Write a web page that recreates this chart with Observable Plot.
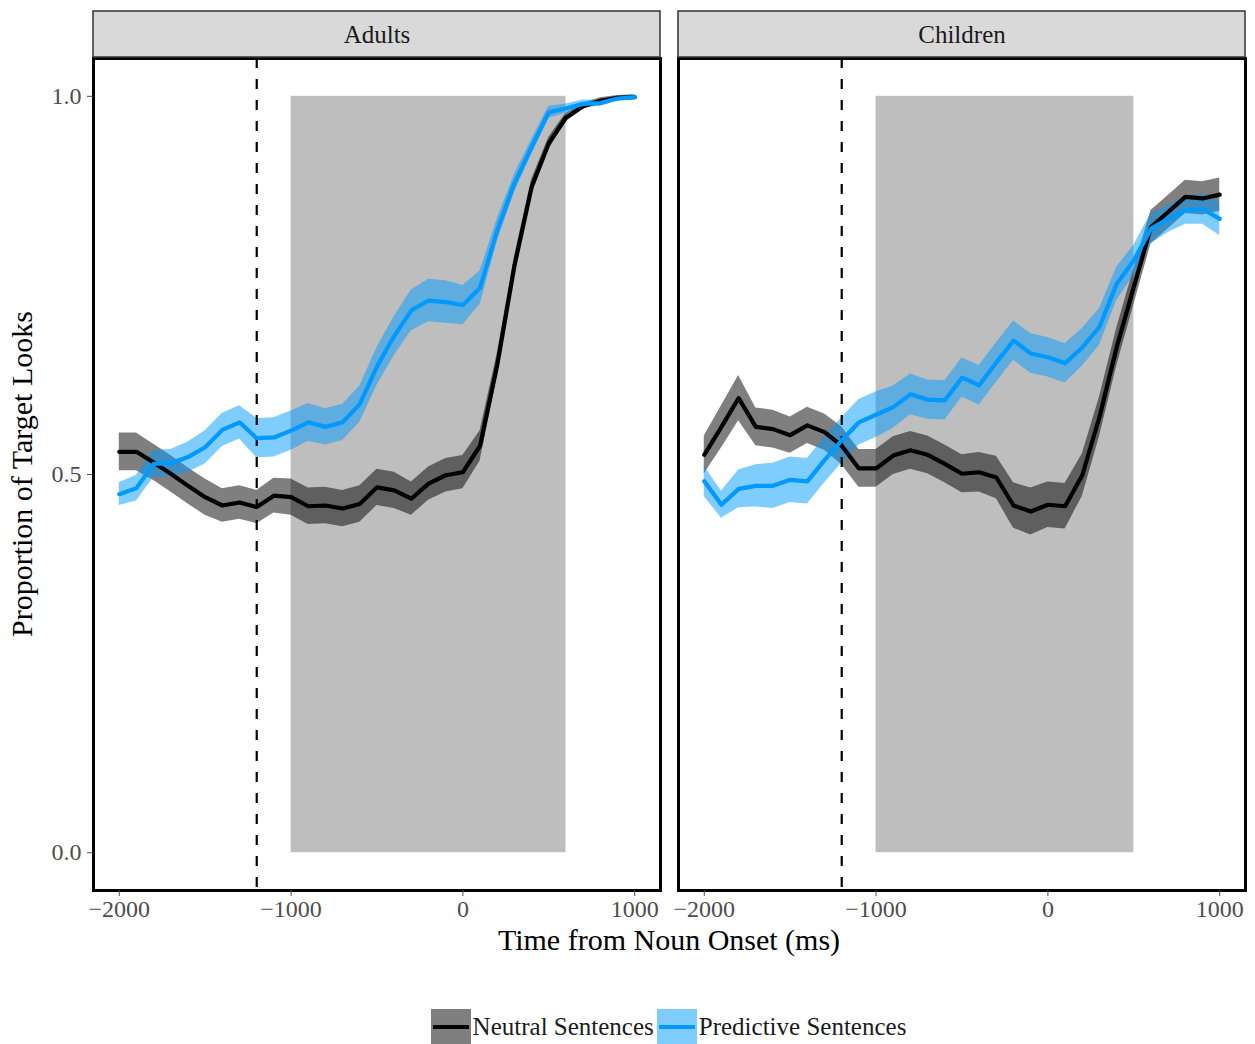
<!DOCTYPE html>
<html>
<head>
<meta charset="utf-8">
<script src="https://cdn.jsdelivr.net/npm/d3@7"></script>
<script src="https://cdn.jsdelivr.net/npm/@observablehq/plot@0.6"></script>
<style>
  body { margin: 0; background: #fff; }
  #chart { width: 1255px; }
  #legend {
    width: 1255px; box-sizing: border-box; padding-left: 85px;
    display: flex; justify-content: center; align-items: center;
    margin-top: 39px;
    font-family: "Liberation Serif", "Times New Roman", serif;
    font-size: 25px; color: #1a1a1a;
  }
  .key { width: 40px; height: 36px; position: relative; display: inline-block; margin-right: 2px; }
  .key .ln { position: absolute; left: 2px; right: 2px; top: 16px; height: 4px; }
  .lab { margin-right: 3px; }
  #chart svg text { font-family: "Liberation Serif", "Times New Roman", serif; }
</style>
</head>
<body>
<div id="chart"></div>
<div id="legend"></div>
<script>
// ---------- data ----------
const panels = ["Adults", "Children"];
const conditions = ["Neutral Sentences", "Predictive Sentences"];
const times = [-2000, -1900, -1800, -1700, -1600, -1500, -1400, -1300, -1200, -1100,
               -1000, -900, -800, -700, -600, -500, -400, -300, -200, -100,
               0, 100, 200, 300, 400, 500, 600, 700, 800, 900, 1000];

const adultsNeutral = [0.530, 0.530, 0.516, 0.501, 0.485, 0.470, 0.459, 0.463, 0.457, 0.472,
                       0.470, 0.458, 0.459, 0.455, 0.461, 0.483, 0.479, 0.468, 0.488, 0.499,
                       0.503, 0.538, 0.645, 0.776, 0.880, 0.938, 0.972, 0.987, 0.994, 0.998, 0.999];
const adultsNeutralSE = [0.025, 0.025, 0.024, 0.024, 0.024, 0.024, 0.022, 0.022, 0.022, 0.023,
                         0.024, 0.024, 0.024, 0.024, 0.024, 0.024, 0.024, 0.022, 0.022, 0.022,
                         0.022, 0.020, 0.015, 0.012, 0.010, 0.008, 0.006, 0.004, 0.004, 0.003, 0.003];
const adultsPredictive = [0.474, 0.482, 0.514, 0.515, 0.523, 0.536, 0.559, 0.569, 0.548, 0.549,
                          0.558, 0.569, 0.563, 0.569, 0.593, 0.643, 0.683, 0.717, 0.730, 0.728,
                          0.724, 0.747, 0.823, 0.885, 0.933, 0.979, 0.984, 0.990, 0.991, 0.997, 0.999];
const adultsPredictiveSE = [0.015, 0.017, 0.018, 0.018, 0.020, 0.022, 0.022, 0.022, 0.026, 0.026,
                            0.026, 0.025, 0.024, 0.024, 0.024, 0.025, 0.026, 0.027, 0.028, 0.028,
                            0.026, 0.022, 0.015, 0.012, 0.010, 0.008, 0.006, 0.005, 0.004, 0.003, 0.003];
const childrenNeutral = [0.526, 0.563, 0.601, 0.563, 0.560, 0.552, 0.565, 0.556, 0.538, 0.508,
                         0.508, 0.525, 0.532, 0.526, 0.514, 0.501, 0.503, 0.496, 0.459, 0.451,
                         0.460, 0.458, 0.499, 0.576, 0.668, 0.748, 0.827, 0.847, 0.867, 0.865, 0.870];
const childrenNeutralSE = [0.025, 0.028, 0.030, 0.025, 0.025, 0.024, 0.024, 0.024, 0.025, 0.025,
                           0.025, 0.025, 0.025, 0.025, 0.025, 0.025, 0.026, 0.028, 0.030, 0.031,
                           0.030, 0.030, 0.028, 0.026, 0.025, 0.024, 0.022, 0.022, 0.022, 0.022, 0.022];
const childrenPredictive = [0.491, 0.460, 0.481, 0.485, 0.485, 0.493, 0.491, 0.519, 0.545, 0.569,
                            0.579, 0.589, 0.606, 0.599, 0.598, 0.628, 0.618, 0.648, 0.677, 0.660,
                            0.655, 0.647, 0.668, 0.695, 0.752, 0.783, 0.825, 0.838, 0.849, 0.851, 0.838];
const childrenPredictiveSE = [0.020, 0.018, 0.025, 0.028, 0.030, 0.030, 0.030, 0.030, 0.030, 0.030,
                              0.030, 0.028, 0.027, 0.026, 0.026, 0.026, 0.026, 0.026, 0.026, 0.026,
                              0.026, 0.026, 0.025, 0.024, 0.022, 0.020, 0.020, 0.018, 0.018, 0.020, 0.022];

const windowStart = [-1000, -1000];
const windowEnd = [600, 500];
const predictionOnset = [-1200];
const xTicks = [-2000, -1000, 0, 1000];
const yTicks = [0, 0.5, 1];

const colors = ["#000000", "#0099ff"];

// ---------- build table ----------
const series = {
  "Adults": { "Neutral Sentences": [adultsNeutral, adultsNeutralSE], "Predictive Sentences": [adultsPredictive, adultsPredictiveSE] },
  "Children": { "Neutral Sentences": [childrenNeutral, childrenNeutralSE], "Predictive Sentences": [childrenPredictive, childrenPredictiveSE] }
};
const rows = [];
for (const p of panels) for (const c of conditions) {
  const [v, se] = series[p][c];
  times.forEach((t, i) => rows.push({ panel: p, cond: c, t, y: v[i], lo: v[i] - se[i], hi: v[i] + se[i] }));
}
const shade = panels.map((p, i) => ({ panel: p, x1: windowStart[i], x2: windowEnd[i] }));
const strips = panels.map(p => ({ panel: p }));

// scale extents (5% expansion as in the source)
const X0 = -2150, X1 = 1150, Y0 = -0.05, Y1 = 1.05;
const H = 970, MT = 58, MB = 80;
const pxPerY = (H - MT - MB) / (Y1 - Y0);
const pyToY = py => Y1 + (MT - py) / pxPerY;

const serif = "'Liberation Serif', 'Times New Roman', serif";

const chart = Plot.plot({
  width: 1255, height: H,
  marginLeft: 93, marginRight: 9, marginTop: MT, marginBottom: MB,
  style: { fontFamily: serif, background: "#fff" },
  fx: { domain: panels, paddingInner: 17.7 / 585.3, paddingOuter: 0, axis: null, label: null },
  x: { domain: [X0, X1], label: null },
  y: { domain: [Y0, Y1], label: null },
  color: { domain: conditions, range: colors },
  marks: [
    Plot.rect(shade, { fx: "panel", x1: "x1", x2: "x2", y1: 0, y2: 1, fill: "#bebebe" }),
    Plot.areaY(rows, { fx: "panel", x: "t", y1: "lo", y2: "hi", z: "cond", fill: "cond", fillOpacity: 0.5 }),
    Plot.ruleX(predictionOnset, { stroke: "#000", strokeWidth: 2.2, strokeDasharray: "10,11" }),
    Plot.lineY(rows, { fx: "panel", x: "t", y: "y", z: "cond", stroke: "cond", strokeWidth: 4.2, strokeLinejoin: "round" }),
    Plot.frame({ stroke: "#000", strokeWidth: 3 }),
    Plot.rect(strips, { fx: "panel", x1: X0, x2: X1, y1: pyToY(57), y2: pyToY(11), fill: "#d9d9d9", stroke: "#333", strokeWidth: 1.5 }),
    Plot.text(strips, { fx: "panel", x: (X0 + X1) / 2, y: pyToY(34), text: "panel", fontSize: 25, fill: "#1a1a1a", fontFamily: serif }),
    Plot.axisX({ ticks: xTicks, tickFormat: d3.format("d"), tickSize: 6, tickPadding: 3, fontSize: 24, fontFamily: serif, color: "#4d4d4d", label: null }),
    Plot.axisY({ ticks: yTicks, tickFormat: d3.format(".1f"), tickSize: 6, tickPadding: 6, fontSize: 24, fontFamily: serif, color: "#4d4d4d", label: null })
  ]
});

// axis titles
const svg = d3.select(chart);
svg.append("text")
  .attr("x", 669).attr("y", 943)
  .attr("text-anchor", "middle").attr("dominant-baseline", "middle")
  .attr("font-family", serif).attr("font-size", 30).attr("fill", "#000")
  .text("Time from Noun Onset (ms)");
svg.append("text")
  .attr("transform", "translate(25,474) rotate(-90)")
  .attr("text-anchor", "middle").attr("dominant-baseline", "middle")
  .attr("font-family", serif).attr("font-size", 30).attr("fill", "#000")
  .text("Proportion of Target Looks");

document.getElementById("chart").appendChild(chart);

// legend
const legend = d3.select("#legend");
conditions.forEach((c, i) => {
  const key = legend.append("span").attr("class", "key")
    .style("background", d3.color(colors[i]).copy({ opacity: 0.5 }).formatRgb());
  key.append("span").attr("class", "ln").style("background", colors[i]);
  legend.append("span").attr("class", "lab").text(c);
});
</script>
</body>
</html>
